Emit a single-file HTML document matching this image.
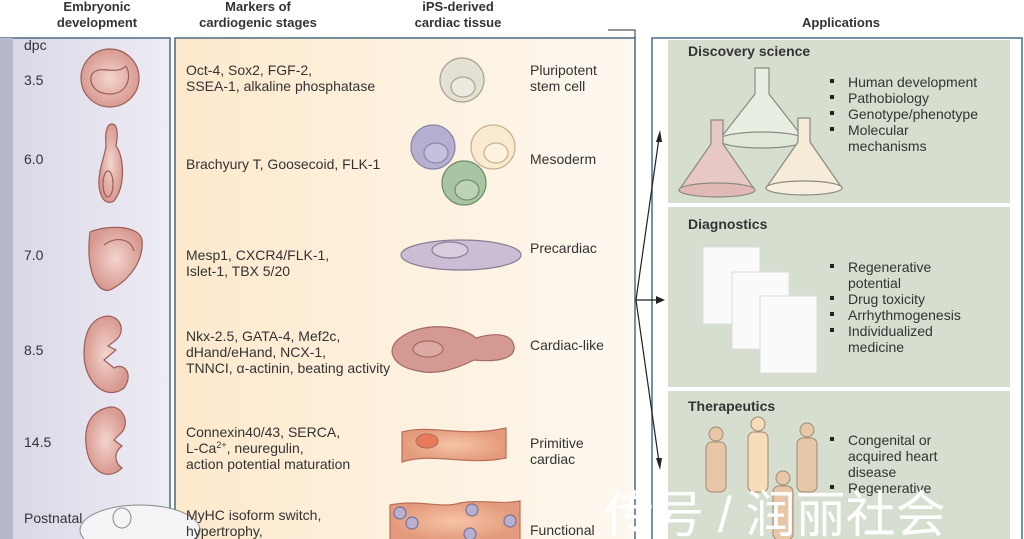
<!DOCTYPE html>
<html><head><meta charset="utf-8"><style>
html,body{margin:0;padding:0;background:#fff;width:1024px;height:539px;overflow:hidden}
svg text{font-family:"Liberation Sans",sans-serif}
</style></head><body>
<svg width="1024" height="539" viewBox="0 0 1024 539" xmlns="http://www.w3.org/2000/svg">
<defs>
<linearGradient id="mid" x1="0" x2="1" y1="0" y2="0"><stop offset="0" stop-color="#fde9cc"/><stop offset="1" stop-color="#fdf8f0"/></linearGradient>
<linearGradient id="lav" x1="0" x2="1"><stop offset="0" stop-color="#d8d6e6"/><stop offset="1" stop-color="#eeedf4"/></linearGradient>
<radialGradient id="emb"><stop offset="0" stop-color="#f3d5cf"/><stop offset="1" stop-color="#d89a90"/></radialGradient>
<radialGradient id="tis"><stop offset="0" stop-color="#f6c4a6"/><stop offset="1" stop-color="#e49a7c"/></radialGradient>
</defs>
<g font-weight="bold" font-size="13" fill="#333" text-anchor="middle">
<text x="97" y="11">Embryonic</text><text x="97" y="27">development</text>
<text x="258" y="11">Markers of</text><text x="258" y="27">cardiogenic stages</text>
<text x="458" y="11">iPS-derived</text><text x="458" y="27">cardiac tissue</text>
<text x="841" y="27">Applications</text>
</g>
<rect x="0" y="38" width="170" height="510" fill="url(#lav)" stroke="#4c6b85" stroke-width="1.5"/>
<rect x="0" y="38" width="13" height="510" fill="#b6b8cc"/>
<rect x="175" y="38" width="460" height="510" fill="url(#mid)" stroke="#4c6b85" stroke-width="1.5"/>
<polyline points="608,30 635,30 635,38" fill="none" stroke="#555" stroke-width="1.2"/>
<rect x="652" y="38" width="370" height="510" fill="#fff" stroke="#4c6b85" stroke-width="1.5"/>
<rect x="668" y="40" width="342" height="163" fill="#d6dfcf"/>
<rect x="668" y="207" width="342" height="180" fill="#d6dfcf"/>
<rect x="668" y="391" width="342" height="150" fill="#d6dfcf"/>
<g stroke="#222" stroke-width="1.2" fill="none">
<line x1="636" y1="300" x2="659" y2="138"/><line x1="636" y1="300" x2="658" y2="300"/><line x1="636" y1="300" x2="659" y2="462"/>
</g>
<g fill="#222"><polygon points="660,130 656,142 662,142"/><polygon points="665,300 656,296 656,304"/><polygon points="660,470 656,458 662,458"/></g>
<g font-size="14" fill="#333">
<text x="24" y="50">dpc</text><text x="24" y="85">3.5</text><text x="24" y="164">6.0</text><text x="24" y="260">7.0</text>
<text x="24" y="355">8.5</text><text x="24" y="447">14.5</text><text x="24" y="523">Postnatal</text>
</g>
<g fill="url(#emb)" stroke="#9b5e58" stroke-width="1.2">
<circle cx="110" cy="78" r="29"/>
<path d="M112,124 c6,0 6,12 4,22 c8,10 10,40 -2,55 c-10,6 -18,-8 -14,-30 c3,-14 6,-20 6,-26 c-1,-10 0,-21 6,-21z"/>
<path d="M90,232 c20,-8 50,-6 52,8 c2,20 -12,40 -32,50 c-16,4 -24,-26 -20,-58z"/>
<path d="M100,318 c18,-8 28,12 16,22 l-8,6 8,4 -12,10 10,8 c10,-6 20,6 10,20 c-18,14 -40,-6 -40,-34 c0,-20 6,-32 16,-36z"/>
<path d="M106,408 c16,-6 26,16 14,26 l-6,6 8,6 c-10,8 -6,18 0,22 c-14,14 -34,4 -36,-24 c-2,-20 6,-32 20,-36z"/>
</g>
<g fill="none" stroke="#9b5e58" stroke-width="1.2"><path d="M92,74 c8,-10 24,2 34,-8 c6,10 2,28 -16,28 c-16,0 -22,-12 -18,-20z"/><ellipse cx="108" cy="184" rx="5" ry="13"/><path d="M104,245 c10,-8 26,-8 30,6"/></g>
<ellipse cx="140" cy="530" rx="60" ry="25" fill="#f4f4f6" stroke="#888"/>
<ellipse cx="122" cy="518" rx="9" ry="10" fill="#f4f4f6" stroke="#888"/>
<g font-size="14" fill="#333">
<text x="186" y="75">Oct-4, Sox2, FGF-2,</text><text x="186" y="91">SSEA-1, alkaline phosphatase</text>
<text x="186" y="169">Brachyury T, Goosecoid, FLK-1</text>
<text x="186" y="260">Mesp1, CXCR4/FLK-1,</text><text x="186" y="276">Islet-1, TBX 5/20</text>
<text x="186" y="341">Nkx-2.5, GATA-4, Mef2c,</text><text x="186" y="357">dHand/eHand, NCX-1,</text><text x="186" y="373">TNNCI, α-actinin, beating activity</text>
<text x="186" y="437">Connexin40/43, SERCA,</text><text x="186" y="453">L-Ca<tspan font-size="9" dy="-5">2+</tspan><tspan dy="5">, neuregulin,</tspan></text><text x="186" y="469">action potential maturation</text>
<text x="186" y="520">MyHC isoform switch,</text><text x="186" y="536">hypertrophy,</text>
<text x="530" y="75">Pluripotent</text><text x="530" y="91">stem cell</text>
<text x="530" y="164">Mesoderm</text><text x="530" y="253">Precardiac</text>
<text x="530" y="350">Cardiac-like</text><text x="530" y="448">Primitive</text><text x="530" y="464">cardiac</text>
<text x="530" y="535">Functional</text>
</g>
<g stroke-width="1.2">
<circle cx="462" cy="80" r="22" fill="#e4e0d4" stroke="#a8a290"/><ellipse cx="463" cy="87" rx="12" ry="10" fill="#ece9e0" stroke="#a8a290"/>
<circle cx="433" cy="147" r="22" fill="#b6b0d0" stroke="#8a84a6"/><ellipse cx="436" cy="153" rx="12" ry="10" fill="#c6c0dc" stroke="#8a84a6"/>
<circle cx="493" cy="147" r="22" fill="#faead0" stroke="#c4b28e"/><ellipse cx="496" cy="153" rx="12" ry="10" fill="#fdf2de" stroke="#c4b28e"/>
<circle cx="464" cy="183" r="22" fill="#a9c4a2" stroke="#6f8e6a"/><ellipse cx="467" cy="190" rx="12" ry="10" fill="#bed3b6" stroke="#6f8e6a"/>
<ellipse cx="461" cy="255" rx="60" ry="15" fill="#cbbdd3" stroke="#8a7e96"/><ellipse cx="450" cy="250" rx="18" ry="8" fill="#d8ccde" stroke="#8a7e96"/>
<path d="M400,338 c20,-16 60,-14 76,0 c20,-6 36,-4 38,8 c2,14 -20,16 -40,14 c-20,10 -40,16 -60,10 c-20,-4 -30,-20 -14,-32z" fill="#d49a92" stroke="#a26a64"/>
<ellipse cx="428" cy="349" rx="15" ry="8" fill="#dcaaa2" stroke="#a26a64"/>
<path d="M402,432 c30,-8 60,6 104,-4 l0,30 c-40,8 -74,-6 -104,4z" fill="url(#tis)" stroke="#b8705a"/>
<ellipse cx="427" cy="441" rx="11" ry="7" fill="#e87a5a" stroke="#b8705a"/>
<path d="M390,505 c30,-6 50,4 70,-2 c20,-4 40,2 60,-2 l0,40 -130,0z" fill="url(#tis)" stroke="#b8705a"/>
<g fill="#b8b0d0" stroke="#7a7096"><circle cx="400" cy="513" r="6"/><circle cx="412" cy="523" r="6"/><circle cx="472" cy="510" r="6"/><circle cx="510" cy="521" r="6"/><circle cx="470" cy="534" r="6"/></g>
</g>
<g font-size="14" font-weight="bold" fill="#333"><text x="688" y="56">Discovery science</text><text x="688" y="229">Diagnostics</text><text x="688" y="411">Therapeutics</text></g>
<g font-size="14" fill="#333">
<text x="848" y="87">Human development</text><text x="848" y="103">Pathobiology</text><text x="848" y="119">Genotype/phenotype</text><text x="848" y="135">Molecular</text><text x="848" y="151">mechanisms</text>
<text x="848" y="272">Regenerative</text><text x="848" y="288">potential</text><text x="848" y="304">Drug toxicity</text><text x="848" y="320">Arrhythmogenesis</text><text x="848" y="336">Individualized</text><text x="848" y="352">medicine</text>
<text x="848" y="445">Congenital or</text><text x="848" y="461">acquired heart</text><text x="848" y="477">disease</text><text x="848" y="493">Regenerative</text>
</g>
<g fill="#222"><rect x="830" y="79" width="4" height="4"/><rect x="830" y="95" width="4" height="4"/><rect x="830" y="111" width="4" height="4"/><rect x="830" y="127" width="4" height="4"/>
<rect x="830" y="264" width="4" height="4"/><rect x="830" y="296" width="4" height="4"/><rect x="830" y="312" width="4" height="4"/><rect x="830" y="328" width="4" height="4"/>
<rect x="830" y="437" width="4" height="4"/><rect x="830" y="485" width="4" height="4"/></g>
<g stroke="#8a8a7e" stroke-width="1.2">
<path d="M755,68 h14 v26 l36,46 h-86 l36,-46z" fill="#e8eee2"/>
<ellipse cx="762" cy="140" rx="43" ry="8" fill="#dfe8d8"/>
<path d="M711,120 h12 v24 l32,46 h-76 l32,-46z" fill="#e8c8c6"/>
<ellipse cx="717" cy="190" rx="38" ry="7" fill="#e2b8b6"/>
<path d="M798,118 h12 v24 l32,46 h-76 l32,-46z" fill="#f6ead8"/>
<ellipse cx="804" cy="188" rx="38" ry="7" fill="#f8eee0"/>
</g>
<g fill="#fafafa" stroke="#ddd"><rect x="703" y="247" width="57" height="77"/><rect x="732" y="272" width="57" height="77"/><rect x="760" y="296" width="57" height="77"/></g>
<g fill="#e8c6a8" stroke="#a08872" stroke-width="1"><circle cx="716" cy="434" r="7"/><rect x="706" y="442" width="20" height="50" rx="6"/>
<circle cx="758" cy="424" r="7" fill="#f6dcb8"/><rect x="748" y="432" width="20" height="60" rx="6" fill="#f6dcb8"/>
<circle cx="807" cy="430" r="7"/><rect x="797" y="438" width="20" height="54" rx="6"/>
<circle cx="783" cy="478" r="7"/><rect x="773" y="486" width="20" height="54" rx="6"/></g>
<text x="604" y="532" font-size="50" fill="#fff" style="font-family:'Liberation Sans','Noto Sans CJK SC',sans-serif">传号 / 润丽社会</text>
</svg>
</body></html>
